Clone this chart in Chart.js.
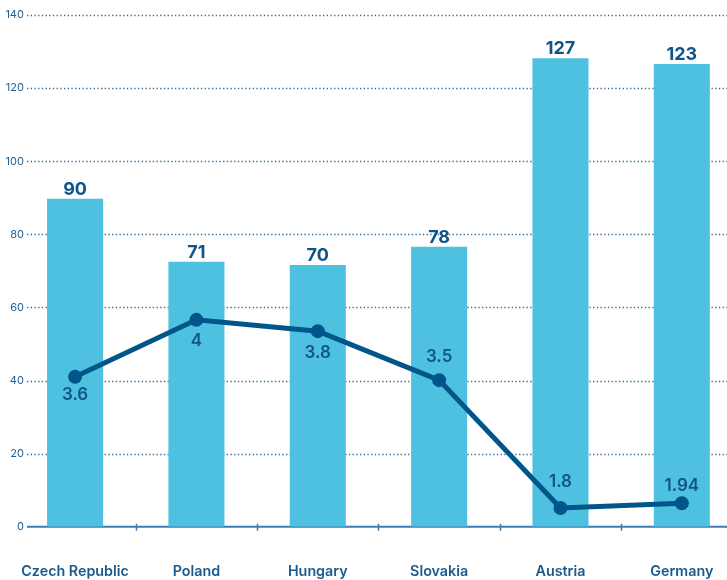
<!DOCTYPE html>
<html>
<head>
<meta charset="utf-8">
<script src="https://cdn.jsdelivr.net/npm/chart.js@4.4.0/dist/chart.umd.min.js"></script>
<style>
html, body { margin: 0; padding: 0; overflow: hidden; background: #fff; }
#wrap { width: 760px; height: 580px; position: relative; }
canvas { display: block; }
</style>
</head>
<body>
<div id="wrap"><canvas id="mycanvas" width="752" height="580"></canvas></div>
<script>
var countries = ["Czech Republic", "Poland", "Hungary", "Slovakia", "Austria", "Germany"];
// bar heights as drawn, and the numbers printed on top of them
var barValues = [89.7, 72.5, 71.6, 76.6, 128.2, 126.6];
var barLabels = ["90", "71", "70", "78", "127", "123"];
// line points as drawn on the left scale, and their printed values
var lineValues = [41.0, 56.6, 53.5, 40.1, 5.1, 6.4];
var lineLabels = ["3.6", "4", "3.8", "3.5", "1.8", "1.94"];
var yTicks = [0, 20, 40, 60, 80, 100, 120, 140];

var FONT = "Inter, 'Noto Sans', sans-serif";
var DARK = "#0f5589";

var decorPlugin = {
	id: 'decor',
	beforeDatasetsDraw: function(chart) {
		var ctx = chart.ctx;
		var x = chart.scales.x, y = chart.scales.y, area = chart.chartArea;
		ctx.save();
		//dotted grid
		ctx.strokeStyle = "#2b6a9c";
		ctx.lineWidth = 1.3;
		ctx.setLineDash([1.3, 2.4]);
		for (var i in yTicks) {
			if (yTicks[i] === 0) continue;
			var py = Math.round(y.getPixelForValue(yTicks[i])) + 0.5;
			ctx.beginPath();
			ctx.moveTo(27, py);
			ctx.lineTo(area.right, py);
			ctx.stroke();
		}
		ctx.setLineDash([]);
		//axis line at zero
		var p0 = y.getPixelForValue(0);
		ctx.strokeStyle = "#3b7db3";
		ctx.lineWidth = 2;
		ctx.beginPath();
		ctx.moveTo(27, p0);
		ctx.lineTo(area.right, p0);
		ctx.stroke();
		//small ticks between categories
		ctx.lineWidth = 1.5;
		for (var j = 0; j < countries.length - 1; j++) {
			var px = Math.round((x.getPixelForValue(j) + x.getPixelForValue(j + 1)) / 2) + 0.5;
			ctx.beginPath();
			ctx.moveTo(px, p0 - 3);
			ctx.lineTo(px, p0 + 4);
			ctx.stroke();
		}
		ctx.restore();
	},
	afterDatasetsDraw: function(chart, args, opts) {
		var ctx = chart.ctx;
		ctx.save();
		ctx.fillStyle = DARK;
		ctx.textAlign = "center";
		//bar labels
		var bars = chart.getDatasetMeta(1).data;
		ctx.font = "700 18px " + FONT;
		ctx.textBaseline = "alphabetic";
		for (var i = 0; i < bars.length; i++) {
			ctx.fillText(barLabels[i], bars[i].x, bars[i].y - 4);
		}
		//line labels
		var pts = chart.getDatasetMeta(0).data;
		ctx.font = "600 17px " + FONT;
		ctx.textBaseline = "middle";
		for (var k = 0; k < pts.length; k++) {
			ctx.fillText(lineLabels[k], pts[k].x, pts[k].y + opts.offsets[k]);
		}
		ctx.restore();
	}
};

var chartdata = {
	labels: countries,
	datasets: [
		{
			type: 'line',
			label: 'line',
			data: lineValues,
			borderColor: "#00558a",
			backgroundColor: "#00558a",
			borderWidth: 5,
			pointRadius: 4.5,
			pointHoverRadius: 4.5,
			tension: 0,
			order: 0
		},
		{
			type: 'bar',
			label: 'bars',
			data: barValues,
			backgroundColor: "#4fc1e0",
			categoryPercentage: 1,
			barPercentage: 0.462,
			order: 1
		}
	]
};

var ctx = document.getElementById("mycanvas");

var barGraph = new Chart(ctx, {
	data: chartdata,
	plugins: [decorPlugin],
	options: {
		responsive: false,
		devicePixelRatio: 1,
		animation: false,
		layout: { padding: { top: 15, left: 14.4, right: 0, bottom: 0 } },
		plugins: {
			legend: { display: false },
			tooltip: { enabled: false },
			decor: { offsets: [18, 21, 22, -23, -26, -17] }
		},
		scales: {
			x: {
				grid: { display: false, drawTicks: true, tickLength: 33 },
				border: { display: false },
				ticks: {
					color: "#1b5a8d",
					font: { family: FONT, size: 14.3, weight: '600' },
					padding: 3,
					maxRotation: 0
				},
				afterFit: function(scale) {
					scale.height = 53.3;
					scale.paddingLeft = 0;
					scale.paddingRight = 0;
				}
			},
			y: {
				min: 0,
				max: 140,
				grid: { display: false, drawTicks: false },
				border: { display: false },
				ticks: {
					stepSize: 20,
					mirror: true,
					crossAlign: 'far',
					padding: -9,
					color: "#1f5f95",
					font: { family: FONT, size: 11 }
				},
				afterFit: function(scale) { scale.width = 0; }
			}
		}
	}
});
</script>
</body>
</html>
